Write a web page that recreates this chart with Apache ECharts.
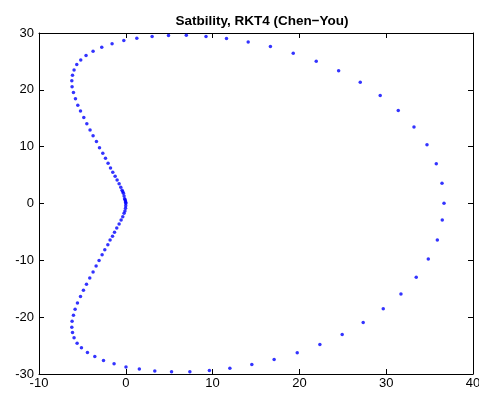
<!DOCTYPE html>
<html>
<head>
<meta charset="utf-8">
<script src="https://cdn.jsdelivr.net/npm/echarts@6/dist/echarts.min.js"></script>
<style>
  html, body { margin: 0; padding: 0; background: #fff; }
  #chart { width: 479px; height: 393px; }
</style>
</head>
<body>
<div id="chart"></div>
<script>
// points, going up from the origin, round the top, down the right side and back
const upperLeftX = [0, -0.01, -0.04, -0.08, -0.14, -0.2, -0.27, -0.35, -0.43, -0.58, -0.77, -1.0, -1.23, -1.5, -1.76, -2.04, -2.34, -2.65, -3.03, -3.38, -3.77, -4.12, -4.49, -4.84, -5.22, -5.53, -5.8, -6.03, -6.19, -6.22, -6.14, -5.96, -5.65]
const upperLeftY = [0, 0.2, 0.44, 0.64, 0.84, 1.32, 1.79, 2.05, 2.32, 2.85, 3.48, 4.13, 4.78, 5.48, 6.24, 7.07, 7.94, 8.82, 9.81, 10.93, 11.92, 12.92, 14.02, 15.15, 16.26, 17.3, 18.42, 19.54, 20.53, 21.58, 22.58, 23.5, 24.46]
const topX = [-5.19, -4.58, -3.77, -2.77, -1.58, -0.23, 1.27, 3.03, 4.92, 6.97, 9.24, 11.6, 14.1, 16.66, 19.29, 21.94, 24.52, 27.01, 29.31, 31.39, 33.2, 34.7, 35.77, 36.43, 36.66]
const topY = [25.27, 26.05, 26.8, 27.5, 28.12, 28.68, 29.09, 29.4, 29.56, 29.6, 29.4, 29.03, 28.42, 27.63, 26.45, 25.04, 23.34, 21.35, 19.02, 16.38, 13.44, 10.33, 7.0, 3.55, 0.04]
const bottomX = [36.46, 35.89, 34.85, 33.46, 31.7, 29.66, 27.35, 24.93, 22.36, 19.75, 17.09, 14.52, 11.99, 9.63, 7.38, 5.27, 3.34, 1.56, 0.02, -1.35, -2.57, -3.57, -4.42, -5.11, -5.61]
const bottomY = [-2.9, -6.41, -9.75, -12.97, -15.91, -18.54, -20.95, -23.06, -24.82, -26.27, -27.45, -28.33, -29.0, -29.38, -29.61, -29.61, -29.47, -29.14, -28.77, -28.21, -27.63, -26.92, -26.22, -25.4, -24.57]
const lowerLeftX = [-5.96, -6.14, -6.22, -6.19, -6.03, -5.84, -5.57, -5.22, -4.88, -4.53, -4.15, -3.77, -3.42, -3.08, -2.73, -2.42, -2.07, -1.81, -1.53, -1.3, -1.04, -0.77, -0.54, -0.35, -0.2, -0.1, -0.03, -0.01]
const lowerLeftY = [-23.64, -22.71, -21.76, -20.7, -19.65, -18.59, -17.49, -16.38, -15.25, -14.2, -13.09, -12.04, -10.98, -10.05, -9.0, -8.12, -7.24, -6.41, -5.76, -5.06, -4.31, -3.6, -2.9, -2.32, -1.72, -1.3, -0.84, -0.4]

const xTicks = [-10, 0, 10, 20, 30, 40]
const yTicks = [-30, -20, -10, 0, 10, 20, 30]

const xs = [...upperLeftX, ...topX, ...bottomX, ...lowerLeftX]
const ys = [...upperLeftY, ...topY, ...bottomY, ...lowerLeftY]
const points = xs.map((x, i) => [x, ys[i]])

const font = "'Liberation Sans', Arial, Helvetica, sans-serif"
const chart = echarts.init(document.getElementById("chart"))

const axisBase = (min, max, interval) => ({
  type: "value",
  min,
  max,
  interval,
  axisLine: { show: true, onZero: false, lineStyle: { color: "#000", width: 1 } },
  axisTick: { show: true, inside: true, length: 5, lineStyle: { color: "#000" } },
  splitLine: { show: false },
})

chart.setOption({
  animation: false,
  backgroundColor: "#fff",
  title: {
    text: "Satbility, RKT4 (Chen\u2212You)",
    left: 257,
    textAlign: "center",
    top: 9,
    textStyle: { fontFamily: font, fontSize: 13.5, fontWeight: "bold", color: "#000" },
  },
  grid: { left: 39, right: 6, top: 33, bottom: 19, outerBoundsMode: "none", containLabel: false },
  xAxis: [
    {
      ...axisBase(xTicks[0], xTicks[xTicks.length - 1], 10),
      position: "bottom",
      axisLabel: { color: "#000", fontFamily: font, fontSize: 13, margin: 3 },
    },
    {
      ...axisBase(xTicks[0], xTicks[xTicks.length - 1], 10),
      position: "top",
      axisLabel: { show: false },
    },
  ],
  yAxis: [
    {
      ...axisBase(yTicks[0], yTicks[yTicks.length - 1], 10),
      position: "left",
      axisLabel: { color: "#000", fontFamily: font, fontSize: 13, margin: 5 },
    },
    {
      ...axisBase(yTicks[0], yTicks[yTicks.length - 1], 10),
      position: "right",
      axisLabel: { show: false },
    },
  ],
  series: [
    {
      type: "scatter",
      data: points,
      symbol: "circle",
      symbolSize: 3.5,
      itemStyle: { color: "#0000ff" },
    },
  ],
})
</script>
</body>
</html>
